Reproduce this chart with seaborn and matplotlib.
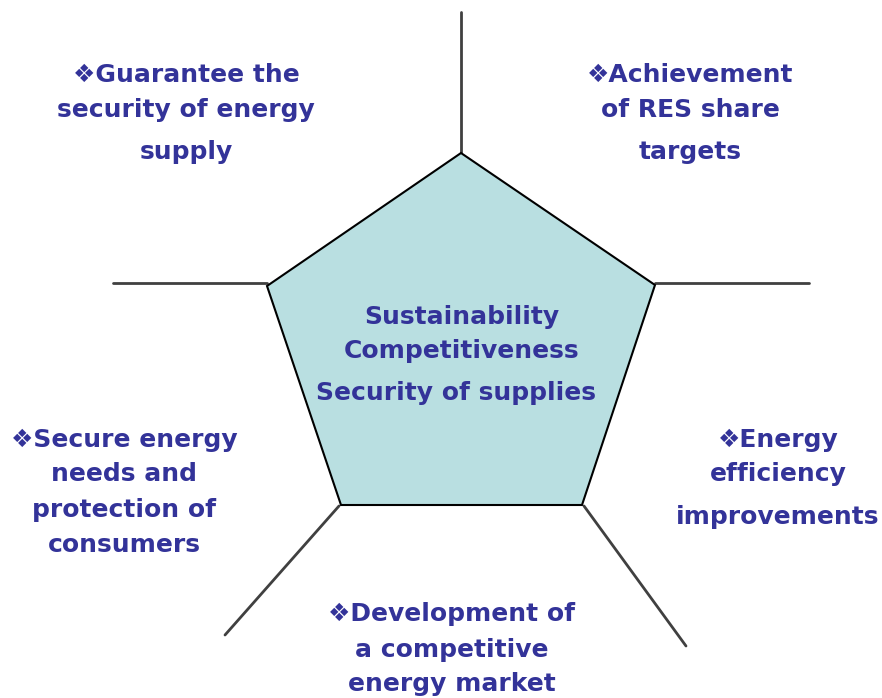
import seaborn as sns
import matplotlib.pyplot as plt
import pandas as pd

# pentagon corners (pixel coords of the slide, y going down)
pent_x = [461, 655, 582, 341, 267]
pent_y = [153, 285, 505, 505, 286]

# spokes going out of the pentagon
spoke_id = ["top", "top", "right", "right", "left", "left", "lr", "lr", "ll", "ll"]
spoke_x = [461, 461, 655, 809, 267, 113, 584, 686, 339, 225]
spoke_y = [153, 12, 283, 283, 283, 283, 506, 646, 506, 635]

# text blocks: one line each
label_text = [
    "\u2756Guarantee the", "security of energy", "supply",
    "\u2756Achievement", "of RES share", "targets",
    "\u2756Secure energy", "needs and", "protection of", "consumers",
    "\u2756Energy", "efficiency", "improvements",
    "\u2756Development of", "a competitive", "energy market",
]
label_x = [186, 186, 186, 690, 690, 690, 124, 124, 124, 124,
           778, 778, 778, 452, 452, 452]
label_y = [75, 110, 152, 75, 110, 152, 440, 474, 510, 545,
           440, 474, 517, 614, 650, 684]

center_text = ["Sustainability", "Competitiveness", "Security of supplies"]
center_x = [462, 462, 456]
center_y = [317, 351, 393]

sns.set_theme(style="white")
plt.rcParams["font.family"] = ["DejaVu Sans", "Noto Sans"]

fig = plt.figure(figsize=(8.82, 6.98), dpi=100)
ax = fig.add_axes([0, 0, 1, 1])
ax.set_xlim(0, 882)
ax.set_ylim(698, 0)
ax.axis("off")

spokes = pd.DataFrame({"id": spoke_id, "x": spoke_x, "y": spoke_y})
sns.lineplot(data=spokes, x="x", y="y", units="id", estimator=None,
             sort=False, color="#404040", linewidth=2, ax=ax)

ax.fill(pent_x, pent_y, facecolor="#b9dfe1", edgecolor="black",
        linewidth=1.5, zorder=3)

navy = "#333399"
for t, x, y in zip(label_text, label_x, label_y):
    ax.text(x, y, t, ha="center", va="center", fontsize=18,
            fontweight="bold", color=navy, zorder=4)
for t, x, y in zip(center_text, center_x, center_y):
    ax.text(x, y, t, ha="center", va="center", fontsize=18,
            fontweight="bold", color=navy, zorder=4)

ax.set_xlabel("")
ax.set_ylabel("")
fig.savefig("out.png", dpi=100)
